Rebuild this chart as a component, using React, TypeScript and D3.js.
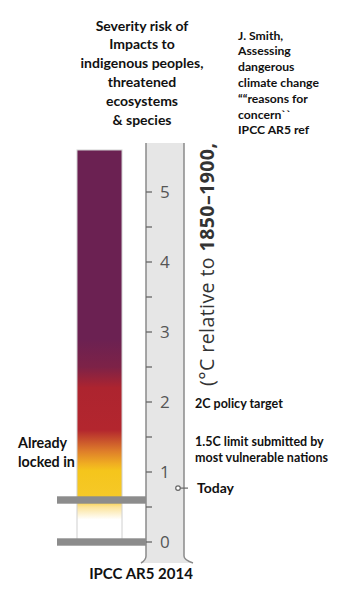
import React from "react";
import * as d3 from "d3";

const majorTicks = [0, 1, 2, 3, 4, 5];
const minorTicks = [0.5, 1.5, 2.5, 3.5, 4.5];
const barTop = 5.6;
const lockedBands = [0, 0.6];
const todayValue = 0.77;
const gradientStops: [number, string][] = [
  [0.0, "#ffffff"],
  [0.32, "#ffffff"],
  [0.5, "#fbe39a"],
  [0.6, "#f6c929"],
  [1.02, "#f5c51c"],
  [1.12, "#f0ad22"],
  [1.3, "#de7d2a"],
  [1.6, "#b3262e"],
  [2.2, "#ad242f"],
  [2.5, "#7d2247"],
  [2.9, "#6b2152"],
  [5.6, "#6b2152"],
];
const titleLines = ["Severity risk of", "Impacts to", "indigenous peoples,", "threatened", "ecosystems", "& species"];
const sourceLines = ["J. Smith,", "Assessing", "dangerous", "climate change", "\u201C\u201Creasons for", "concern``", "IPCC AR5 ref"];
const annotations = [
  { value: 2, lines: ["2C policy target"] },
  { value: 1.5, lines: ["1.5C limit submitted by", "most vulnerable nations"] },
];
const lockedLabel = ["Already", "locked in"];
const footer = "IPCC AR5 2014";

export default function App() {
  const y = d3.scaleLinear().domain([0, barTop]).range([542, 150]);
  const barX0 = 77, barX1 = 122;
  const panelX0 = 146, panelX1 = 184;
  const panelTop = y(5.7);
  const panelPath = `M${panelX0},${panelTop} L${panelX0},556 Q${panelX0},560 ${panelX0 - 5},563 L${panelX1 + 9},563 Q${panelX1},560 ${panelX1},556 L${panelX1},${panelTop} Z`;
  const font = "Lato, 'Open Sans', sans-serif";
  return (
    <svg width={357} height={591} style={{ position: "absolute", left: 0, top: 0 }} fontFamily={font}>
      <defs>
        <linearGradient id="risk" gradientUnits="userSpaceOnUse" x1={0} x2={0} y1={y(0)} y2={y(barTop)}>
          {gradientStops.map(([v, c], i) => (
            <stop key={i} offset={v / barTop} stopColor={c} />
          ))}
        </linearGradient>
      </defs>
      <rect x={0} y={0} width={357} height={591} fill="#fff" />
      {titleLines.map((t, i) => (
        <text key={i} x={142} y={30.5 + i * 18.8} textAnchor="middle" fontSize={14} fontWeight="bold" fill="#111">{t}</text>
      ))}
      {sourceLines.map((t, i) => (
        <text key={i} x={238} y={39.5 + i * 15.8} fontSize={12.2} fontWeight="bold" fill="#111">{t}</text>
      ))}
      {/* thermometer panel */}
      <path d={panelPath} fill="#e6e6e6" stroke="none" />
      <path d={`M${panelX0},${panelTop} L${panelX0},556 Q${panelX0},560 ${panelX0 - 5},563`} fill="none" stroke="#8a8a8a" strokeWidth={1.5} />
      <path d={`M${panelX1},${panelTop} L${panelX1},556 Q${panelX1},560 ${panelX1 + 9},563`} fill="none" stroke="#8a8a8a" strokeWidth={1.5} />
      {majorTicks.map((t) => (
        <g key={t}>
          <line x1={panelX0} x2={panelX0 + 6} y1={y(t)} y2={y(t)} stroke="#666" strokeWidth={1.3} />
          <text x={160} y={y(t) + 6} fontSize={17} fill="#555" fontFamily="'Open Sans', sans-serif">{t}</text>
        </g>
      ))}
      {minorTicks.map((t) => (
        <line key={t} x1={panelX0} x2={panelX0 + 6} y1={y(t)} y2={y(t)} stroke="#666" strokeWidth={1.3} />
      ))}
      {/* risk bar */}
      <rect x={barX0} y={y(barTop)} width={barX1 - barX0} height={y(0) - y(barTop)} fill="url(#risk)" stroke="#d0d0d0" strokeWidth={1} />
      {lockedBands.map((v) => (
        <rect key={v} x={57} y={y(v) - 3.7} width={panelX0 - 57} height={7.4} fill="#8c8c8c" />
      ))}
      {/* axis title */}
      <text transform={`translate(214,386) rotate(-90)`} fontSize={19.5} fill="#333" fontFamily="'Open Sans', sans-serif" textLength={243} lengthAdjust="spacing">
        (°C relative to <tspan fontWeight="bold">1850–1900,</tspan>
      </text>
      {/* today marker */}
      <circle cx={178} cy={y(todayValue)} r={2.3} fill="#fff" stroke="#666" strokeWidth={1.2} />
      <line x1={180.3} x2={188} y1={y(todayValue)} y2={y(todayValue)} stroke="#666" strokeWidth={1.2} />
      <text x={197} y={y(todayValue) + 5} fontSize={14} fontWeight="bold" fill="#111">Today</text>
      {annotations.map((a, i) => (
        <g key={i}>
          {a.lines.map((l, j) => (
            <text key={j} x={195} y={y(a.value) + (a.lines.length > 1 ? 9 : 6) + j * 15.5} fontSize={12.5} fontWeight="bold" fill="#111">{l}</text>
          ))}
        </g>
      ))}
      {lockedLabel.map((t, i) => (
        <text key={i} x={18} y={448 + i * 18.5} fontSize={14.3} fontWeight="bold" fill="#111">{t}</text>
      ))}
      <text x={141} y={579} textAnchor="middle" fontSize={15} fontWeight="bold" fill="#111">{footer}</text>
    </svg>
  );
}
